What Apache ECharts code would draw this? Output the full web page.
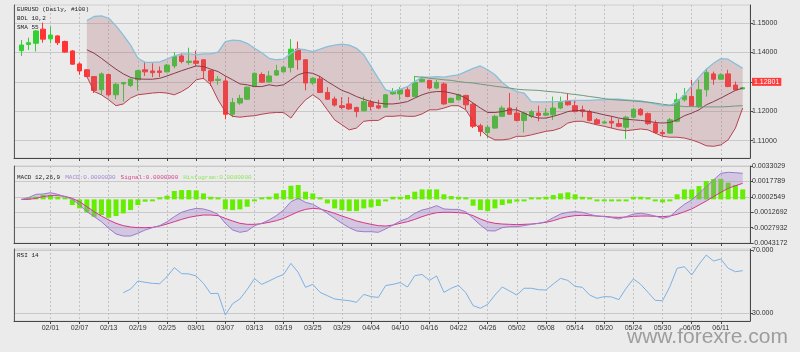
<!DOCTYPE html>
<html>
<head>
<meta charset="utf-8">
<script src="https://cdn.jsdelivr.net/npm/echarts@6/dist/echarts.min.js"></script>
<style>
html,body{margin:0;padding:0;background:#ebebeb;}
#chart{width:800px;height:352px;}
</style>
</head>
<body>
<div id="chart"></div>
<script>
// date labels, one every 4 bars starting at bar 4
const dateLabels = ['02/01','02/07','02/13','02/19','02/25','03/01','03/07','03/13','03/19','03/25','03/29','04/04',
  '04/10','04/16','04/22','04/26','05/02','05/08','05/14','05/20','05/24','05/30','06/05','06/11'];

const open = [1.1406,1.1427,1.1431,1.1479,1.1446,1.1456,1.1437,1.1405,1.1361,1.1341,
  1.1318,1.1273,1.1325,1.1256,1.1293,1.1288,1.1307,1.1341,1.1337,1.1337,
  1.1334,1.1354,1.1388,1.1366,1.1371,1.1375,1.1338,1.1305,1.1303,1.1190,
  1.1228,1.1241,1.1284,1.1325,1.1300,1.1323,1.1334,1.1349,1.1411,1.1375,
  1.1296,1.1310,1.1264,1.1242,1.1219,1.1225,1.1213,1.1202,1.1231,1.1219,
  1.1214,1.1259,1.1259,1.1273,1.1250,1.1301,1.1305,1.1279,1.1293,1.1230,
  1.1239,1.1254,1.1224,1.1151,1.1128,1.1143,1.1183,1.1211,1.1194,1.1169,
  1.1183,1.1194,1.1187,1.1188,1.1211,1.1236,1.1219,1.1205,1.1199,1.1171,
  1.1160,1.1166,1.1158,1.1146,1.1180,1.1207,1.1192,1.1158,1.1128,1.1126,
  1.1166,1.1239,1.1250,1.1216,1.1273,1.1327,1.1309,1.1327,1.1289,1.1276];
const close = [1.1425,1.1433,1.1473,1.1445,1.1459,1.1433,1.1401,1.1360,1.1337,1.1318,
  1.1271,1.1327,1.1256,1.1292,1.1298,1.1309,1.1338,1.1334,1.1331,1.1332,
  1.1357,1.1386,1.1369,1.1370,1.1363,1.1338,1.1303,1.1309,1.1190,1.1230,
  1.1244,1.1282,1.1329,1.1299,1.1320,1.1338,1.1350,1.1411,1.1375,1.1296,
  1.1312,1.1264,1.1241,1.1221,1.1213,1.1208,1.1199,1.1233,1.1216,1.1211,
  1.1256,1.1266,1.1273,1.1250,1.1298,1.1309,1.1279,1.1298,1.1225,1.1244,
  1.1256,1.1222,1.1149,1.1132,1.1146,1.1183,1.1211,1.1190,1.1169,1.1194,
  1.1199,1.1186,1.1194,1.1211,1.1230,1.1222,1.1199,1.1199,1.1169,1.1158,
  1.1164,1.1160,1.1149,1.1180,1.1207,1.1188,1.1158,1.1128,1.1124,1.1171,
  1.1239,1.1253,1.1219,1.1273,1.1332,1.1309,1.1324,1.1284,1.1273,1.12801];
const low = [1.1388,1.1408,1.1403,1.1433,1.1431,1.1425,1.1399,1.1358,1.1324,1.1316,
  1.1262,1.1256,1.1250,1.1241,1.1233,1.1282,1.1271,1.1320,1.1316,1.1316,
  1.1332,1.1346,1.1363,1.1358,1.1354,1.1309,1.1286,1.1290,1.1173,1.1180,
  1.1222,1.1239,1.1282,1.1296,1.1296,1.1320,1.1332,1.1332,1.1341,1.1271,
  1.1290,1.1262,1.1239,1.1216,1.1207,1.1205,1.1180,1.1199,1.1203,1.1207,
  1.1211,1.1256,1.1239,1.1248,1.1248,1.1298,1.1275,1.1275,1.1222,1.1228,
  1.1237,1.1205,1.1143,1.1115,1.1109,1.1140,1.1180,1.1188,1.1166,1.1128,
  1.1177,1.1166,1.1183,1.1171,1.1207,1.1219,1.1196,1.1180,1.1166,1.1154,
  1.1158,1.1143,1.1146,1.1106,1.1177,1.1185,1.1154,1.1124,1.1115,1.1124,
  1.1162,1.1233,1.1216,1.1211,1.1250,1.1290,1.1307,1.1282,1.1271,1.1275];
const high = [1.1442,1.1450,1.1476,1.1501,1.1488,1.1459,1.1440,1.1408,1.1366,1.1343,
  1.1320,1.1332,1.1327,1.1296,1.1299,1.1312,1.1341,1.1369,1.1363,1.1352,
  1.1361,1.1401,1.1397,1.1416,1.1406,1.1377,1.1341,1.1320,1.1318,1.1245,
  1.1256,1.1284,1.1332,1.1332,1.1337,1.1358,1.1354,1.1445,1.1437,1.1377,
  1.1316,1.1320,1.1282,1.1250,1.1248,1.1248,1.1216,1.1250,1.1239,1.1239,
  1.1259,1.1279,1.1282,1.1282,1.1320,1.1316,1.1307,1.1307,1.1298,1.1247,
  1.1259,1.1256,1.1228,1.1158,1.1154,1.1188,1.1219,1.1262,1.1214,1.1199,
  1.1205,1.1219,1.1211,1.1250,1.1250,1.1262,1.1239,1.1219,1.1205,1.1177,
  1.1169,1.1183,1.1173,1.1185,1.1211,1.1211,1.1196,1.1169,1.1137,1.1177,
  1.1262,1.1279,1.1307,1.1307,1.1346,1.1335,1.1329,1.1341,1.1301,1.1282];

// Bollinger (10,2) from bar 9
const bbStart = 9;
const bbUpper = [1.1508,1.1522,1.1524,1.1516,1.1490,1.1459,1.1425,1.1380,1.1366,1.1366,
  1.1368,1.1377,1.1388,1.1395,1.1395,1.1392,1.1395,1.1395,1.1401,1.1437,
  1.1442,1.1440,1.1431,1.1414,1.1399,1.1380,1.1375,1.1377,1.1397,1.1411,
  1.1409,1.1403,1.1411,1.1420,1.1425,1.1428,1.1425,1.1414,1.1392,1.1352,
  1.1312,1.1273,1.1267,1.1275,1.1284,1.1301,1.1316,1.1316,1.1318,1.1316,
  1.1320,1.1324,1.1335,1.1346,1.1354,1.1341,1.1324,1.1298,1.1279,1.1267,
  1.1262,1.1233,1.1232,1.1232,1.1233,1.1233,1.1236,1.1237,1.1237,1.1237,
  1.1239,1.1239,1.1241,1.1241,1.1239,1.1237,1.1235,1.1230,1.1225,1.1219,
  1.1219,1.1233,1.1256,1.1286,1.1316,1.1343,1.1363,1.1379,1.1377,1.1361,
  1.1346];
const bbLower = [1.1318,1.1267,1.1256,1.1239,1.1219,1.1225,1.1245,1.1256,1.1259,1.1262,
  1.1264,1.1262,1.1256,1.1267,1.1282,1.1307,1.1312,1.1290,1.1239,1.1199,
  1.1183,1.1180,1.1183,1.1185,1.1190,1.1194,1.1196,1.1196,1.1177,1.1211,
  1.1239,1.1256,1.1239,1.1205,1.1171,1.1154,1.1137,1.1143,1.1166,1.1169,
  1.1169,1.1183,1.1183,1.1185,1.1183,1.1183,1.1191,1.1205,1.1205,1.1211,
  1.1219,1.1219,1.1205,1.1166,1.1137,1.1115,1.1103,1.1103,1.1106,1.1115,
  1.1115,1.1120,1.1126,1.1132,1.1135,1.1143,1.1160,1.1166,1.1166,1.1160,
  1.1154,1.1149,1.1143,1.1137,1.1134,1.1137,1.1140,1.1137,1.1126,1.1115,
  1.1112,1.1112,1.1109,1.1103,1.1094,1.1083,1.1081,1.1086,1.1103,1.1143,
  1.1211];
const bbMid = [1.1409,1.1397,1.1380,1.1361,1.1343,1.1327,1.1315,1.1310,1.1309,1.1309,
  1.1312,1.1320,1.1329,1.1338,1.1346,1.1354,1.1352,1.1343,1.1335,1.1320,
  1.1307,1.1293,1.1290,1.1284,1.1284,1.1290,1.1286,1.1290,1.1307,1.1324,
  1.1332,1.1329,1.1318,1.1301,1.1286,1.1271,1.1262,1.1250,1.1241,1.1233,
  1.1228,1.1225,1.1225,1.1228,1.1233,1.1245,1.1256,1.1264,1.1267,1.1267,
  1.1262,1.1256,1.1245,1.1228,1.1211,1.1196,1.1196,1.1199,1.1205,1.1205,
  1.1194,1.1183,1.1177,1.1177,1.1183,1.1190,1.1199,1.1203,1.1202,1.1199,
  1.1194,1.1188,1.1183,1.1177,1.1173,1.1171,1.1169,1.1166,1.1162,1.1160,
  1.1162,1.1171,1.1185,1.1194,1.1205,1.1222,1.1233,1.1245,1.1258,1.1271,
  1.1279];

// SMA 55 from bar 54
const smaStart = 54;
const sma55 = [1.1318,1.1316,1.1312,1.1310,1.1307,1.1305,1.1301,1.1298,1.1296,1.1292,
  1.1289,1.1285,1.1282,1.1279,1.1275,1.1273,1.1272,1.1271,1.1268,1.1266,
  1.1264,1.1260,1.1257,1.1254,1.1250,1.1247,1.1243,1.1240,1.1238,1.1237,
  1.1235,1.1233,1.1231,1.1228,1.1224,1.1221,1.1219,1.1216,1.1216,1.1215,
  1.1215,1.1215,1.1215,1.1216,1.1218,1.1219];

// MACD 12,26,9
const macdLine = [0,0.00017,0.00050,0.00053,0.00066,0.00050,0.00027,0,-0.00056,-0.00122,
  -0.00171,-0.00221,-0.00287,-0.00343,-0.00363,-0.00363,-0.00336,-0.00303,-0.00280,-0.00260,
  -0.00221,-0.00171,-0.00128,-0.00105,-0.00089,-0.00095,-0.00115,-0.00148,-0.00237,-0.00303,
  -0.00326,-0.00313,-0.00260,-0.00237,-0.00204,-0.00161,-0.00105,-0.00023,0.00010,-0.00029,
  -0.00049,-0.00089,-0.00138,-0.00188,-0.00237,-0.00280,-0.00313,-0.00320,-0.00320,-0.00326,
  -0.00293,-0.00254,-0.00214,-0.00188,-0.00138,-0.00105,-0.00089,-0.00062,-0.00095,-0.00099,
  -0.00099,-0.00122,-0.00188,-0.00254,-0.00310,-0.00313,-0.00280,-0.00270,-0.00270,-0.00260,
  -0.00247,-0.00237,-0.00221,-0.00181,-0.00145,-0.00128,-0.00122,-0.00128,-0.00148,-0.00165,
  -0.00171,-0.00181,-0.00194,-0.00171,-0.00145,-0.00138,-0.00148,-0.00165,-0.00188,-0.00171,
  -0.00105,-0.00049,-0.00006,0.00060,0.00126,0.00192,0.00258,0.00268,0.00264,0.00258];
const signalLine = [0,0,0.00010,0.00027,0.00037,0.00037,0.00030,0.00010,-0.00023,-0.00072,
  -0.00122,-0.00165,-0.00204,-0.00237,-0.00260,-0.00273,-0.00280,-0.00280,-0.00277,-0.00264,
  -0.00244,-0.00221,-0.00198,-0.00178,-0.00165,-0.00155,-0.00155,-0.00161,-0.00188,-0.00214,
  -0.00237,-0.00247,-0.00247,-0.00240,-0.00227,-0.00211,-0.00188,-0.00155,-0.00122,-0.00099,
  -0.00089,-0.00095,-0.00115,-0.00138,-0.00165,-0.00188,-0.00214,-0.00231,-0.00247,-0.00260,
  -0.00264,-0.00254,-0.00237,-0.00221,-0.00198,-0.00171,-0.00148,-0.00132,-0.00128,-0.00128,
  -0.00132,-0.00138,-0.00161,-0.00194,-0.00221,-0.00237,-0.00244,-0.00247,-0.00250,-0.00247,
  -0.00244,-0.00237,-0.00227,-0.00211,-0.00188,-0.00171,-0.00161,-0.00158,-0.00161,-0.00165,
  -0.00168,-0.00175,-0.00178,-0.00175,-0.00168,-0.00165,-0.00165,-0.00168,-0.00171,-0.00165,
  -0.00148,-0.00122,-0.00095,-0.00056,-0.00016,0.00027,0.00070,0.00109,0.00135,0.00159];
// histogram from bar 1
const histStart = 1;
const histogram = [0.0001,0.00026,0.00043,0.00043,0.00026,0.00005,-0.00056,-0.00089,-0.00129,
  -0.00172,-0.00155,-0.00182,-0.00165,-0.00139,-0.00106,-0.00056,-0.00023,-0.00005,0.00005,
  0.00036,0.00083,0.00092,0.00092,0.00089,0.00059,0.00026,0.00005,-0.00099,-0.00106,
  -0.00099,-0.00073,-0.00017,0.00003,0.00026,0.00059,0.00092,0.00135,0.00142,0.00076,
  0.00059,0.00003,-0.0004,-0.00089,-0.00106,-0.00116,-0.00116,-0.00089,-0.00079,-0.00066,
  -0.00017,0.00026,0.00026,0.00043,0.00076,0.00099,0.00099,0.00099,0.0005,0.00033,
  0.00026,0.00003,-0.00063,-0.00106,-0.00116,-0.00089,-0.00056,-0.0004,-0.00023,-0.00005,
  0.00003,0.00003,0.00026,0.00043,0.00059,0.00069,0.0005,0.00026,0.00005,-0.00003,
  -0.00017,-0.00017,-0.00017,-0.00005,0.00026,0.00026,0.00005,-0.00005,-0.0003,-0.00013,
  0.0005,0.00099,0.00099,0.00132,0.00182,0.00201,0.00201,0.00165,0.00142,0.00099];

// RSI 14 from bar 14
const rsiStart = 14;
const rsi = [42.9,45.2,50.3,49.5,48.8,48.6,53.1,58.8,55.0,54.8,
  53.5,48.8,42.3,42.5,28.7,35.9,38.9,45.0,51.8,48.2,
  50.3,52.6,54.5,61.5,55.8,46.3,48.2,43.1,41.0,38.9,
  38.3,37.8,36.8,41.8,40.4,39.9,47.4,48.2,49.3,46.5,
  53.7,54.5,50.7,53.5,43.1,45.7,47.6,42.9,34.7,33.0,
  35.5,41.4,46.5,44.0,41.4,45.7,45.7,44.8,44.6,48.4,
  52.0,50.7,46.9,46.3,41.4,39.3,40.4,40.2,38.5,45.7,
  51.6,48.2,43.1,38.0,37.8,46.7,58.4,59.4,54.1,60.9,
  66.8,63.0,64.3,58.4,56.2,56.9];

const priceTicks = [1.11, 1.12, 1.13, 1.14, 1.15];
const macdTicks = [-0.0043172, -0.0027932, -0.0012692, 0.0002549, 0.0017789, 0.0033029];
const rsiTicks = [30, 70];

// one empty slot on each side of the bars
const nBars = open.length;
const cats = [];
const labelAt = [];
for (let k = 0; k < nBars + 2; k++) {
  const bar = k - 1;
  cats.push(String(k));
  const j = (bar - 4) / 4;
  labelAt.push(bar >= 4 && Number.isInteger(j) && j < dateLabels.length ? dateLabels[j] : '');
}
const pad = (arr, start) => ['-'].concat(new Array(start).fill('-'), arr, new Array(nBars - start - arr.length + 1).fill('-'));
const showAt = (idx) => labelAt[idx] !== '';

const candles = ['-'].concat(open.map((o, i) => [o, close[i], low[i], high[i]]), ['-']);
const bbWidth = bbUpper.map((u, i) => +(u - bbLower[i]).toFixed(5));
const macdGap = macdLine.map((m, i) => +(m - signalLine[i]).toFixed(5));
const lastClose = close[nBars - 1];

const gridLine = '#c9c9c9';
const axisDark = '#474747';
const labelFont = { fontFamily: 'Liberation Sans', fontSize: 7, color: '#333' };

function xAx(g, withLabels) {
  return {
    type: 'category', gridIndex: g, data: cats, boundaryGap: false,
    axisLine: { onZero: false, lineStyle: { color: axisDark } },
    axisTick: { interval: showAt, length: 3, lineStyle: { color: axisDark } },
    axisLabel: Object.assign({ show: withLabels, interval: showAt, margin: 4,
      formatter: (v, idx) => labelAt[idx] }, labelFont),
    splitLine: { show: true, interval: showAt, lineStyle: { color: '#c2c2c2', type: [2, 2] } }
  };
}
function yAx(g, mn, mx, ticks, digits) {
  return {
    type: 'value', gridIndex: g, position: 'right', min: mn, max: mx,
    axisLine: { show: true, lineStyle: { color: axisDark } },
    axisTick: { show: true, customValues: ticks, length: 3, lineStyle: { color: axisDark } },
    axisLabel: Object.assign({ customValues: ticks, margin: 2,
      formatter: v => v.toFixed(digits) }, labelFont),
    splitLine: { show: true, lineStyle: { color: gridLine } }
  };
}
function leftEdge(g) {
  return {
    type: 'value', gridIndex: g, position: 'left', min: 0, max: 1,
    axisLine: { show: true, lineStyle: { color: '#5a5a5a' } },
    axisTick: { show: false }, axisLabel: { show: false }, splitLine: { show: false }
  };
}

const mono = { fontFamily: 'Liberation Mono', fontSize: 6, fontWeight: 'normal' };
const chart = echarts.init(document.getElementById('chart'));
chart.setOption({
  animation: false,
  backgroundColor: '#ebebeb',
  title: [
    { left: 17, top: 5, padding: 0, text: 'EURUSD (Daily, #100)\nBOL 10,2\nSMA 55',
      textStyle: Object.assign({ color: '#222', lineHeight: 9 }, mono) },
    { left: 17, top: 168, padding: 0,
      text: '{a|MACD 12,26,9} {b|MACD:0.0000000} {c|Signal:0.0000000} {d|Histogram:0.0000000}',
      textStyle: { rich: {
        a: Object.assign({ color: '#222' }, mono),
        b: Object.assign({ color: '#a287d2' }, mono),
        c: Object.assign({ color: '#d8458c' }, mono),
        d: Object.assign({ color: '#8fe85a' }, mono) } } },
    { left: 17, top: 252, padding: 0, text: 'RSI 14', textStyle: Object.assign({ color: '#222' }, mono) },
    { left: 627, top: 327, padding: 0, text: 'www.forexre.com',
      textStyle: { fontFamily: 'Liberation Sans', fontSize: 21, fontWeight: 'normal', color: '#9d9d9d' } }
  ],
  grid: [
    { left: 14, right: 50, top: 5, height: 153, show: true, borderColor: '#cfcfcf', borderWidth: 1 },
    { left: 14, right: 50, top: 166, height: 77, show: true, borderColor: '#cfcfcf', borderWidth: 1 },
    { left: 14, right: 50, top: 249, height: 72, show: true, borderColor: '#cfcfcf', borderWidth: 1 }
  ],
  xAxis: [xAx(0, false), xAx(1, false), xAx(2, true)],
  yAxis: [
    yAx(0, 1.10414, 1.1561, priceTicks, 5),
    yAx(1, -0.0043172, 0.0033029, macdTicks, 7),
    yAx(2, 24.92, 70.63, rsiTicks, 3),
    leftEdge(0), leftEdge(1), leftEdge(2)
  ],
  series: [
    { name: 'BB lower', type: 'line', xAxisIndex: 0, yAxisIndex: 0, data: pad(bbLower, bbStart),
      stack: 'bb', symbol: 'none', lineStyle: { color: '#b8414f', width: 1 } },
    { name: 'BB upper', type: 'line', xAxisIndex: 0, yAxisIndex: 0, data: pad(bbWidth, bbStart),
      stack: 'bb', symbol: 'none', lineStyle: { color: '#86c0da', width: 1.3 },
      areaStyle: { color: 'rgba(176,108,120,0.4)' } },
    { name: 'BB mid', type: 'line', xAxisIndex: 0, yAxisIndex: 0, data: pad(bbMid, bbStart),
      symbol: 'none', lineStyle: { color: '#8a3b4a', width: 1 } },
    { name: 'SMA 55', type: 'line', xAxisIndex: 0, yAxisIndex: 0, data: pad(sma55, smaStart),
      symbol: 'none', lineStyle: { color: '#6f9a7c', width: 1 } },
    { name: 'EURUSD', type: 'candlestick', xAxisIndex: 0, yAxisIndex: 0, data: candles, barWidth: 5,
      itemStyle: { color: '#33d033', color0: '#ff3535', borderColor: '#33d033', borderColor0: '#ff3535', borderWidth: 1 },
      markLine: { silent: true, symbol: ['none', 'none'], data: [{ yAxis: lastClose }],
        lineStyle: { color: 'transparent' },
        label: { show: true, position: 'end', distance: 2, formatter: () => lastClose.toFixed(5),
          backgroundColor: '#ff3b3b', color: '#fff', fontFamily: 'Liberation Sans', fontSize: 7, padding: [1, 2, 0, 2] } } },

    { name: 'Signal', type: 'line', xAxisIndex: 1, yAxisIndex: 1, data: pad(signalLine, 0),
      stack: 'macd', stackStrategy: 'all', symbol: 'none', lineStyle: { color: '#d8368a', width: 1 } },
    { name: 'MACD', type: 'line', xAxisIndex: 1, yAxisIndex: 1, data: pad(macdGap, 0),
      stack: 'macd', stackStrategy: 'all', symbol: 'none', lineStyle: { color: '#9a7ccc', width: 1 },
      areaStyle: { color: 'rgba(150,108,202,0.42)' } },
    { name: 'Histogram', type: 'bar', xAxisIndex: 1, yAxisIndex: 1, data: pad(histogram, histStart),
      barWidth: 5, barMinHeight: 2, itemStyle: { color: '#66ee00' } },

    { name: 'RSI', type: 'line', xAxisIndex: 2, yAxisIndex: 2, data: pad(rsi, rsiStart),
      symbol: 'none', lineStyle: { color: '#7cb1e3', width: 1 } }
  ]
});
</script>
</body>
</html>
